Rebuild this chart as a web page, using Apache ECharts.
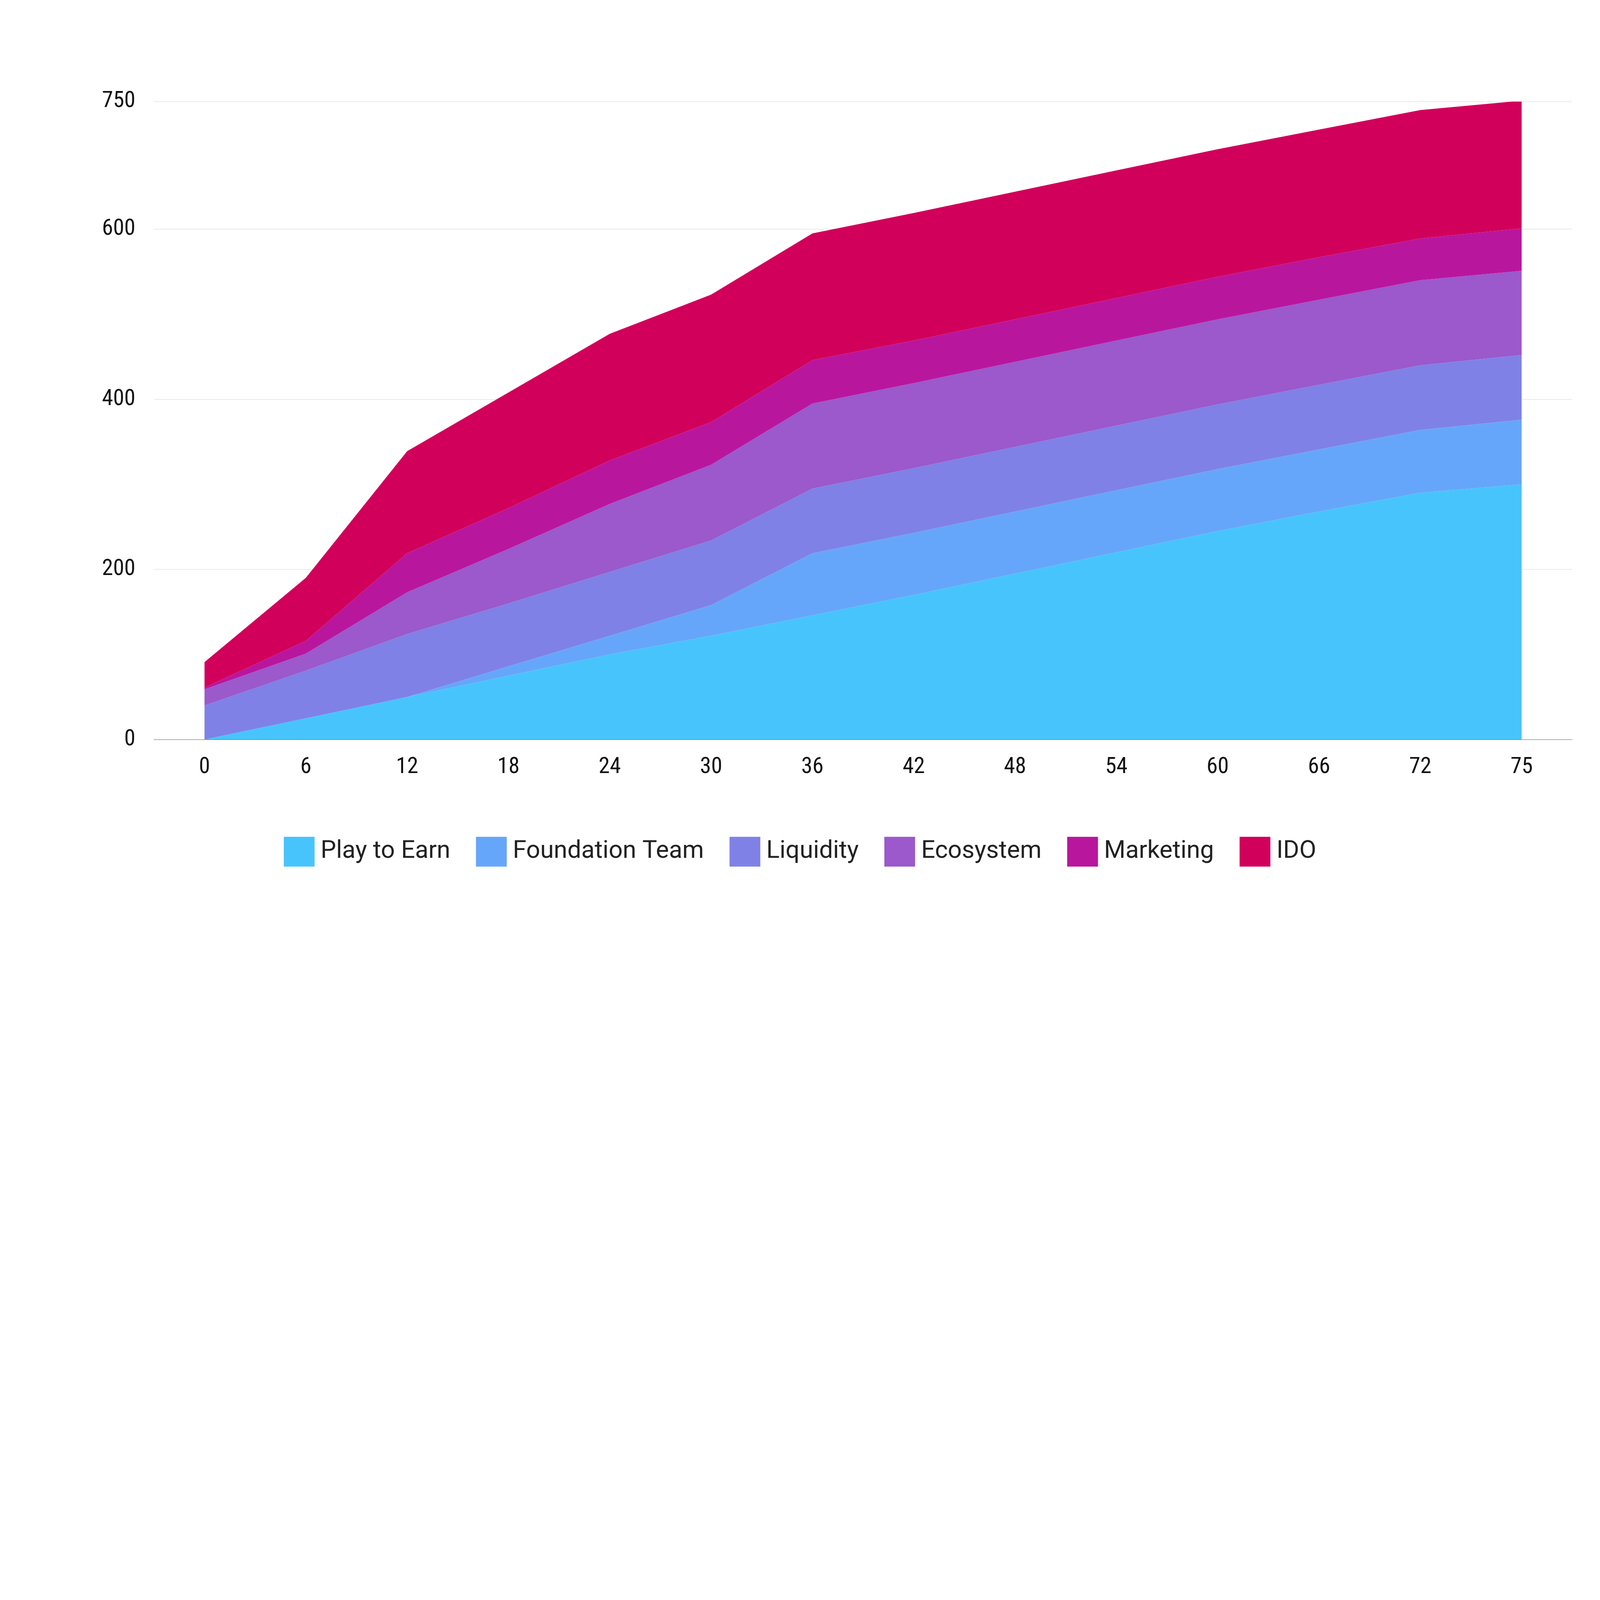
<!DOCTYPE html>
<html lang="en">
<head>
<meta charset="UTF-8">
<title>Token release</title>
<script src="https://cdn.jsdelivr.net/npm/echarts@6/dist/echarts.min.js"></script>
<style>
  html, body { margin: 0; width: 100%; height: 100%; background: #fff; overflow: hidden; }
  #chart { width: 100%; height: 100%; }
</style>
</head>
<body>
<div id="chart"></div>
<script>
var months = ['0', '6', '12', '18', '24', '30', '36', '42', '48', '54', '60', '66', '72', '75'];
var playToEarn = [0, 25, 50, 75, 100, 122, 146, 170, 195, 220, 245, 268, 290, 300];
var foundationTeam = [0, 0, 0, 11, 22, 36, 73, 73, 73, 73, 73, 73, 74, 76];
var liquidity = [40, 56, 74, 74, 75, 76, 76, 76, 76, 76, 76, 76, 76, 76];
var ecosystem = [19, 20, 49, 64, 80, 89, 100, 100, 100, 100, 100, 100, 100, 99];
var marketing = [2, 15, 46, 48, 51, 50, 51, 50, 50, 50, 50, 50, 49, 50];
var ido = [30, 74, 120, 136, 149, 150, 149, 150, 150, 150, 150, 150, 151, 150];

var names = ['Play to Earn', 'Foundation Team', 'Liquidity', 'Ecosystem', 'Marketing', 'IDO'];
var colors = ['#48c4fc', '#66a6fa', '#7f81e6', '#9b59cb', '#b9169e', '#d1005b'];
var values = [playToEarn, foundationTeam, liquidity, ecosystem, marketing, ido];

// measurements taken on a 1560px wide copy of the reference
var s = window.innerWidth / 1560;

var series = names.map(function (n, i) {
    return {
        name: n,
        type: 'line',
        stack: 'total',
        symbol: 'none',
        lineStyle: { width: 0 },
        areaStyle: { color: colors[i], opacity: 1 },
        itemStyle: { color: colors[i] },
        data: values[i]
    };
});

var chart = echarts.init(document.getElementById('chart'));
chart.setOption({
    animation: false,
    grid: { left: 150 * s, right: 27 * s, top: 99 * s, bottom: window.innerHeight - 721 * s },
    legend: {
        top: 814 * s,
        left: 'center',
        icon: 'rect',
        itemWidth: 30 * s,
        itemHeight: 29 * s,
        itemGap: 25 * s,
        textStyle: { fontFamily: 'Roboto', fontSize: 24 * s, color: '#222', padding: [0, 0, 0, 4 * s] },
        data: names
    },
    xAxis: {
        type: 'category',
        boundaryGap: true,
        data: months,
        axisLine: { lineStyle: { color: '#666', width: 1 } },
        axisTick: { show: false },
        axisLabel: { fontFamily: 'Roboto Condensed, Roboto', fontSize: 22 * s, color: '#111', margin: 16 * s }
    },
    yAxis: {
        type: 'value',
        min: 0,
        max: 750,
        interval: 200,
        axisLine: { show: false },
        axisTick: { show: false },
        splitLine: { lineStyle: { color: '#d6d6d6', width: 1 } },
        axisLabel: { fontFamily: 'Roboto Condensed, Roboto', fontSize: 22 * s, color: '#111', margin: 18 * s, showMaxLabel: true }
    },
    series: series
});
</script>
</body>
</html>
